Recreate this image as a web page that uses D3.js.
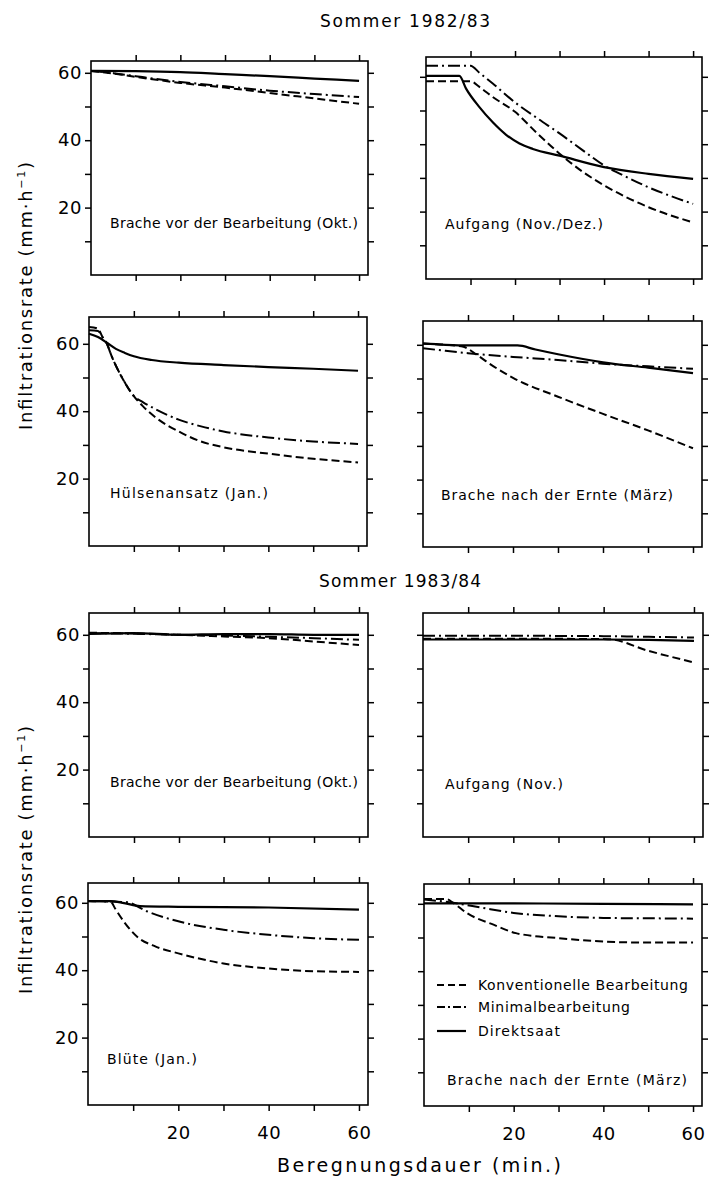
<!DOCTYPE html>
<html>
<head>
<meta charset="utf-8">
<script src="https://cdn.jsdelivr.net/npm/d3@7"></script>
<style>
  body { margin: 0; background: #fff; }
  svg { display: block; }
  text { font-family: "DejaVu Sans", sans-serif; fill: #000; }
</style>
</head>
<body>
<svg id="chart"></svg>
<script>
// ---- data (minutes, mm/h) ----
var seasonTitles = ["Sommer 1982/83", "Sommer 1983/84"];
var seriesNames = ["Konventionelle Bearbeitung", "Minimalbearbeitung", "Direktsaat"];
var panelLabels = [
  "Brache vor der Bearbeitung (Okt.)", "Aufgang (Nov./Dez.)",
  "Hülsenansatz (Jan.)", "Brache nach der Ernte (März)",
  "Brache vor der Bearbeitung (Okt.)", "Aufgang (Nov.)",
  "Blüte (Jan.)", "Brache nach der Ernte (März)"
];
var xTicks = [10, 20, 30, 40, 50, 60];
var xTickLabels = [20, 40, 60];
var yTicks = [10, 20, 30, 40, 50, 60];
var yTickLabels = [20, 40, 60];

// Konventionelle Bearbeitung, one list per panel
var konv = [
  [[0,60.5],[5,59.8],[10,58.8],[20,57.0],[30,55.6],[40,54.0],[50,52.4],[60,50.8]],
  [[0,58.7],[10,58.7],[12,57.0],[15,54.0],[20,49.6],[25,43.2],[30,37.2],[35,32.0],[40,27.8],[50,21.3],[60,16.8]],
  [[0,65.0],[2,64.5],[3,62.0],[4,60.0],[5,56.5],[6,53.5],[8,48.5],[10,44.5],[12,41.5],[15,38.0],[20,34.0],[25,31.0],[30,29.3],[40,27.4],[50,25.9],[60,24.8]],
  [[0,60.3],[5,60.0],[9,59.4],[12,57.0],[15,54.2],[20,50.2],[30,44.6],[40,39.5],[50,34.6],[60,29.3]],
  [[0,60.6],[10,60.4],[20,60.0],[30,59.5],[40,59.0],[50,58.0],[60,57.0]],
  [[0,58.8],[10,58.8],[20,58.8],[30,58.8],[41,58.7],[50,55.2],[60,51.8]],
  [[0,60.5],[5,60.4],[6,58.3],[8,54.3],[11,49.8],[15,47.0],[20,45.0],[30,42.0],[40,40.5],[50,39.7],[60,39.5]],
  [[0,61.4],[5,61.4],[6.5,60.3],[9.5,57.3],[15.5,53.8],[20.5,51.3],[30,49.8],[40,48.8],[50,48.5],[60,48.5]]
];
// Minimalbearbeitung
var minimal = [
  [[0,60.5],[5,59.9],[10,59.0],[20,57.3],[30,56.0],[40,54.7],[50,53.7],[60,52.8]],
  [[0,63.3],[10,63.3],[12,61.2],[15,58.0],[20,52.4],[25,47.7],[30,43.2],[35,38.4],[40,33.7],[45,30.3],[50,27.2],[55,24.6],[60,22.3]],
  [[0,64.0],[2,63.8],[3,62.0],[4,60.0],[5,56.5],[6,53.5],[8,48.5],[10,44.5],[12,42.7],[15,40.5],[20,37.5],[25,35.5],[30,34.0],[40,32.2],[50,31.0],[60,30.3]],
  [[0,59.0],[5,58.2],[10,57.5],[20,56.4],[30,55.5],[40,54.4],[50,53.6],[60,52.9]],
  [[0,60.5],[10,60.3],[20,60.0],[30,59.8],[40,59.4],[50,59.0],[60,58.5]],
  [[0,59.7],[20,59.7],[40,59.6],[50,59.4],[60,59.2]],
  [[0,60.5],[8.5,60.2],[13,57.5],[20,54.5],[30,52.0],[40,50.5],[50,49.5],[60,49.0]],
  [[0,61.3],[6.5,60.3],[13,58.8],[20,57.3],[30,56.3],[40,55.8],[50,55.7],[60,55.6]]
];
// Direktsaat
var direkt = [
  [[0,60.6],[10,60.5],[20,60.2],[30,59.6],[40,59.0],[50,58.3],[60,57.6]],
  [[0,60.3],[7.5,60.3],[9,56.5],[12,51.0],[15,46.5],[18,42.8],[21,40.2],[24,38.6],[30,36.6],[40,33.2],[50,31.2],[60,29.7]],
  [[0,63.0],[2,62.0],[4,60.3],[6,58.5],[8,57.3],[10,56.3],[14,55.2],[20,54.4],[30,53.7],[40,53.1],[50,52.6],[60,52.0]],
  [[0,60.4],[5,60.0],[10,59.8],[21,59.8],[25,58.6],[30,57.2],[40,54.8],[50,53.2],[60,51.6]],
  [[0,60.3],[10,60.5],[20,60.0],[30,60.2],[40,60.2],[50,60.0],[60,60.0]],
  [[0,58.6],[20,58.6],[40,58.6],[50,58.5],[60,58.2]],
  [[0,60.5],[5,60.5],[8,59.9],[11.5,59.0],[20,58.8],[40,58.6],[60,58.0]],
  [[0,60.1],[20,60.1],[40,60.0],[60,59.8]]
];

// ---- layout (pixel boxes of the eight panels, as in the scan) ----
var width = 709, height = 1186;
var boxes = [
  {l: 91,  r: 368, t: 61,  b: 275},
  {l: 426, r: 702, t: 57,  b: 279},
  {l: 89,  r: 367, t: 317, b: 546},
  {l: 423, r: 702, t: 321, b: 547},
  {l: 89,  r: 368, t: 613, b: 837},
  {l: 423, r: 703, t: 613, b: 837},
  {l: 88,  r: 368, t: 883, b: 1105},
  {l: 424, r: 702, t: 884, b: 1106}
];
// where each panel's caption sits, and how wide it is
var captionPos = [
  {x: 110, y: 228, w: 248}, {x: 445, y: 229, w: 158},
  {x: 110, y: 498, w: 158}, {x: 441, y: 500, w: 232},
  {x: 110, y: 787, w: 248}, {x: 445, y: 789, w: 118},
  {x: 107, y: 1064, w: 90}, {x: 447, y: 1085, w: 240}
];
var pxPerUnit = 3.37;
var dashes = ["8,4", "12,4,2,4", null];

var svg = d3.select("#chart")
  .attr("width", width)
  .attr("height", height);

svg.append("rect").attr("width", width).attr("height", height).attr("fill", "#fff");

boxes.forEach(function(bx, i) {
  var isLeft = i % 2 === 0;
  var isBottom = i >= 6;

  var x = d3.scaleLinear().domain([0, 62]).range([bx.l, bx.r]);
  var y = d3.scaleLinear().domain([0, (bx.b - bx.t) / pxPerUnit]).range([bx.b, bx.t]);

  var g = svg.append("g");

  // axes on all four sides, ticks pointing out
  var bottom = d3.axisBottom(x).tickValues(xTicks).tickSize(6).tickSizeOuter(0).tickPadding(15)
    .tickFormat(function(d) { return isBottom && xTickLabels.indexOf(d) >= 0 ? d : ""; });
  var top = d3.axisTop(x).tickValues(xTicks).tickSize(6).tickSizeOuter(0).tickFormat("");
  var left = d3.axisLeft(y).tickValues(yTicks).tickSize(6).tickSizeOuter(0).tickPadding(3)
    .tickFormat(function(d) { return isLeft && yTickLabels.indexOf(d) >= 0 ? d : ""; });
  var right = d3.axisRight(y).tickValues(yTicks).tickSize(6).tickSizeOuter(0).tickFormat("");

  g.append("g").attr("transform", "translate(0," + bx.b + ")").call(bottom);
  g.append("g").attr("transform", "translate(0," + bx.t + ")").call(top);
  g.append("g").attr("transform", "translate(" + bx.l + ",0)").call(left);
  g.append("g").attr("transform", "translate(" + bx.r + ",0)").call(right);

  g.selectAll(".domain").remove();
  g.selectAll(".tick line").attr("stroke", "#000").attr("stroke-width", 1.5);
  g.selectAll(".tick text")
    .attr("font-family", "DejaVu Sans, sans-serif")
    .attr("font-size", 18)
    .attr("letter-spacing", 0.5)
    .attr("fill", "#000");

  // frame
  g.append("rect")
    .attr("x", bx.l).attr("y", bx.t)
    .attr("width", bx.r - bx.l).attr("height", bx.b - bx.t)
    .attr("fill", "none").attr("stroke", "#000").attr("stroke-width", 1.6);

  // curves
  var line = d3.line()
    .x(function(d) { return x(d[0]); })
    .y(function(d) { return y(d[1]); })
    .curve(d3.curveMonotoneX);

  [konv[i], minimal[i], direkt[i]].forEach(function(s, k) {
    g.append("path")
      .datum(s)
      .attr("d", line)
      .attr("fill", "none")
      .attr("stroke", "#000")
      .attr("stroke-width", k === 2 ? 2.2 : 2)
      .attr("stroke-dasharray", dashes[k]);
  });

  // caption
  var c = captionPos[i];
  g.append("text")
    .attr("x", c.x).attr("y", c.y)
    .attr("font-size", 14)
    .attr("textLength", c.w)
    .attr("lengthAdjust", "spacing")
    .text(panelLabels[i]);
});

// legend inside the last panel
var legendY = [985, 1007, 1031];
var legendW = [210, 152, 82];
seriesNames.forEach(function(name, k) {
  svg.append("line")
    .attr("x1", 437).attr("x2", 466)
    .attr("y1", legendY[k]).attr("y2", legendY[k])
    .attr("stroke", "#000")
    .attr("stroke-width", k === 2 ? 2.2 : 2)
    .attr("stroke-dasharray", k === 1 ? "8,3,2,3" : dashes[k] ? "7,4" : null);
  svg.append("text")
    .attr("x", 478).attr("y", legendY[k] + 5)
    .attr("font-size", 14)
    .attr("textLength", legendW[k])
    .attr("lengthAdjust", "spacing")
    .text(name);
});

// season headings
svg.append("text").attr("x", 405).attr("y", 27)
  .attr("text-anchor", "middle").attr("font-size", 17)
  .attr("textLength", 170).attr("lengthAdjust", "spacing")
  .text(seasonTitles[0]);
svg.append("text").attr("x", 400).attr("y", 587)
  .attr("text-anchor", "middle").attr("font-size", 17)
  .attr("textLength", 162).attr("lengthAdjust", "spacing")
  .text(seasonTitles[1]);

// y axis titles (one per season, spanning two rows)
[296, 860].forEach(function(cy) {
  var t = svg.append("text")
    .attr("transform", "translate(32," + cy + ") rotate(-90)")
    .attr("text-anchor", "middle")
    .attr("font-size", 18)
    .attr("textLength", 268)
    .attr("lengthAdjust", "spacing");
  t.append("tspan").text("Infiltrationsrate (mm·h");
  t.append("tspan").attr("dy", -7).attr("font-size", 11).text("−1");
  t.append("tspan").attr("dy", 7).text(")");
});

// x axis title
svg.append("text").attr("x", 419).attr("y", 1172)
  .attr("text-anchor", "middle").attr("font-size", 19)
  .attr("textLength", 284).attr("lengthAdjust", "spacing")
  .text("Beregnungsdauer (min.)");
</script>
</body>
</html>
